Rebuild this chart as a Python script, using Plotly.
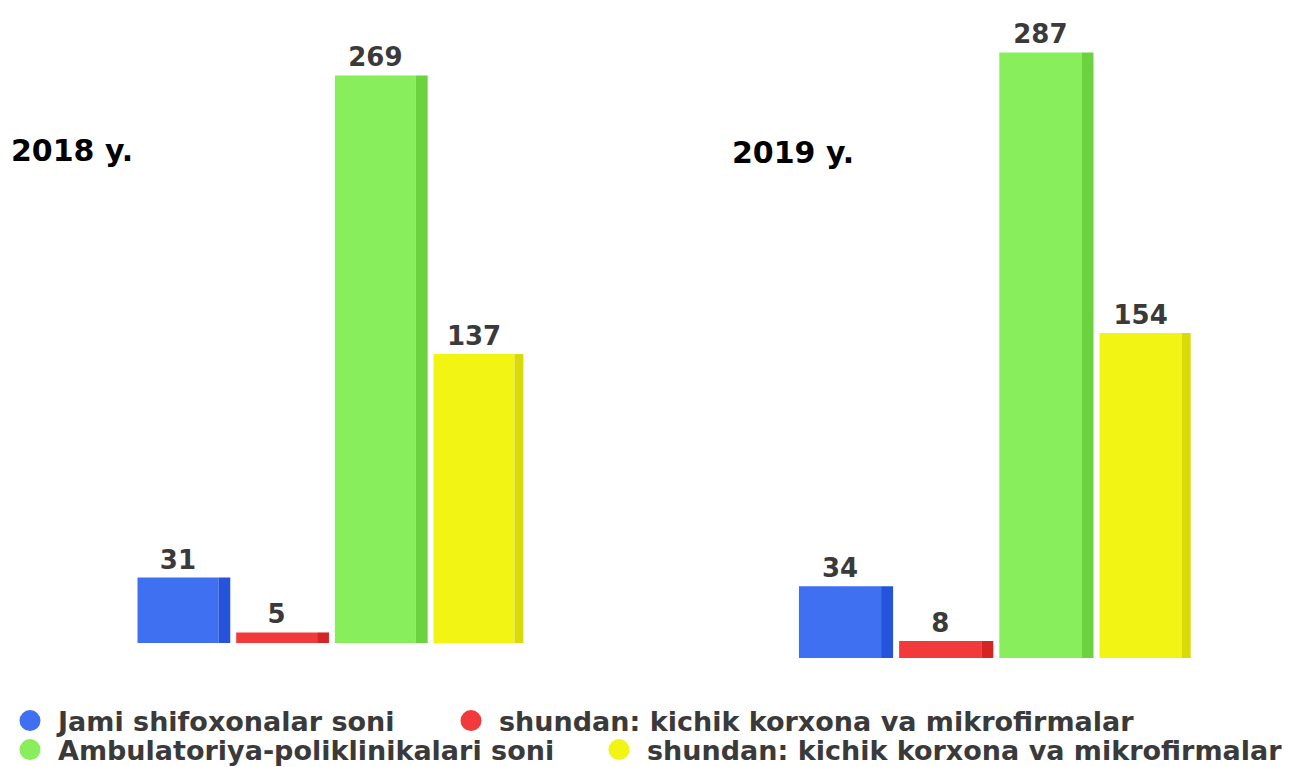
import plotly.graph_objects as go

# ---- data ----
year_labels = ["2018 y.", "2019 y."]
series_names = [
    "Jami shifoxonalar soni",
    "shundan: kichik korxona va mikrofirmalar",
    "Ambulatoriya-poliklinikalari soni",
    "shundan: kichik korxona va mikrofirmalar",
]
values_2018 = [31, 5, 269, 137]
values_2019 = [34, 8, 287, 154]

front_colors = ["#4070F2", "#F23A3A", "#88EE5C", "#F2F514"]
side_colors = ["#2653DC", "#D42424", "#6CD23F", "#D9DA0A"]

FONT = "DejaVu Sans"
LABEL_COLOR = "#3a3a3a"
# the page body has an 8px margin, so the figure is sized to fill the rest of the window
W, H = 1291, 759
positions = list(range(len(series_names)))

fig = go.Figure()

for vals, xa, ya in [(values_2018, "x", "y"), (values_2019, "x2", "y2")]:
    # front faces
    fig.add_trace(go.Bar(
        x=positions, y=vals, xaxis=xa, yaxis=ya,
        width=0.82, offset=-0.41,
        marker=dict(color=front_colors, line=dict(width=0)),
        text=[str(v) for v in vals], textposition="outside",
        textfont=dict(family=FONT, size=26, color=LABEL_COLOR, weight="bold"),
        cliponaxis=False, showlegend=False, hoverinfo="skip",
    ))
    # side faces (pseudo 3D)
    fig.add_trace(go.Bar(
        x=positions, y=vals, xaxis=xa, yaxis=ya,
        width=0.12, offset=0.41,
        marker=dict(color=side_colors, line=dict(width=0)),
        showlegend=False, hoverinfo="skip",
    ))

# legend entries (circle markers), one legend per entry
legend_ids = ["legend", "legend2", "legend3", "legend4"]
for k, name in enumerate(series_names):
    fig.add_trace(go.Scatter(
        x=[None], y=[None], mode="markers", name=name,
        marker=dict(symbol="circle", size=16, color=front_colors[k],
                    line=dict(width=5, color=front_colors[k])),
        legend=legend_ids[k], xaxis="x", yaxis="y",
    ))

legend_x_px = [-6, 435, -6, 583]
legend_y_px = [713, 713, 742, 742]

def legend_cfg(xp, yp):
    return dict(orientation="h", x=xp / W, xanchor="left", y=1 - yp / H, yanchor="middle",
                itemwidth=46,
                font=dict(family=FONT, size=27, color=LABEL_COLOR, weight="bold"),
                bgcolor="rgba(0,0,0,0)", borderwidth=0,
                itemclick=False, itemdoubleclick=False)

axis_common = dict(visible=False, showgrid=False, zeroline=False, fixedrange=True)

layout_kwargs = {lid: legend_cfg(legend_x_px[i], legend_y_px[i]) for i, lid in enumerate(legend_ids)}

fig.update_layout(
    width=W, height=H,
    margin=dict(l=0, r=0, t=0, b=0, autoexpand=False),
    paper_bgcolor="white", plot_bgcolor="white",
    barmode="overlay",
    xaxis=dict(domain=[0.09342, 0.39922], range=[-0.5, 3.5], **axis_common),
    xaxis2=dict(domain=[0.60565, 0.91611], range=[-0.5, 3.5], **axis_common),
    yaxis=dict(domain=[0.16337, 0.99736], range=[0, 300], **axis_common),
    yaxis2=dict(domain=[0.14361, 0.97760], range=[0, 300], anchor="x2", **axis_common),
    annotations=[
        dict(text=year_labels[0], xref="paper", yref="paper", x=1 / W, y=1 - 143 / H,
             xanchor="left", yanchor="middle", showarrow=False,
             font=dict(family=FONT, size=30, color="black", weight="bold")),
        dict(text=year_labels[1], xref="paper", yref="paper", x=722 / W, y=1 - 145 / H,
             xanchor="left", yanchor="middle", showarrow=False,
             font=dict(family=FONT, size=30, color="black", weight="bold")),
    ],
    **layout_kwargs,
)

fig.write_html("out.html")
